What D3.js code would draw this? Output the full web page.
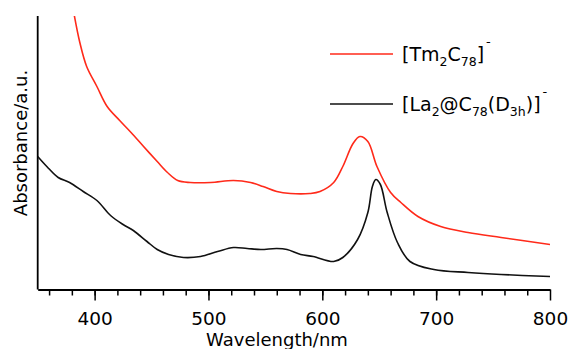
<!DOCTYPE html>
<html>
<head>
<meta charset="utf-8">
<script src="https://cdn.jsdelivr.net/npm/d3@7"></script>
<style>
  body { margin: 0; background: #fff; }
  svg { display: block; font-family: "DejaVu Sans", sans-serif; }
</style>
</head>
<body>
<div id="chart"></div>
<script>
// Tm2C78 anion (red)
const tmWavelength = [382, 387, 393, 402, 411, 422, 432, 443, 455, 464, 473, 484, 502, 522, 537, 548, 560, 572, 589, 598, 610, 618, 627, 633, 640, 648, 660, 669, 684, 704, 728, 757, 800];
const tmAbs = [2.75, 2.47, 2.23, 2.03, 1.83, 1.69, 1.57, 1.43, 1.28, 1.17, 1.09, 1.07, 1.07, 1.09, 1.07, 1.03, 0.98, 0.96, 0.96, 0.98, 1.07, 1.23, 1.46, 1.53, 1.48, 1.23, 0.97, 0.87, 0.73, 0.63, 0.57, 0.52, 0.45];

// La2@C78(D3h) anion (black)
const laWavelength = [350, 358, 368, 378, 390, 402, 414, 425, 434, 446, 455, 465, 478, 493, 508, 522, 534, 546, 560, 569, 581, 592, 610, 618, 631, 640, 644, 647, 651, 657, 666, 677, 698, 728, 757, 800];
const laAbs = [1.33, 1.23, 1.12, 1.07, 0.98, 0.89, 0.74, 0.65, 0.59, 0.48, 0.40, 0.35, 0.32, 0.33, 0.38, 0.42, 0.41, 0.40, 0.41, 0.40, 0.35, 0.33, 0.28, 0.32, 0.50, 0.77, 1.03, 1.10, 1.05, 0.77, 0.47, 0.28, 0.20, 0.17, 0.15, 0.13];

const majorTicks = [400, 500, 600, 700, 800];
const minorTicks = d3.range(360, 800, 20);

const width = 569, height = 349;
const plotLeft = 37.7, plotRight = 550, plotTop = 16, plotBottom = 289.5;

const svg = d3.select('#chart').append('svg')
  .attr('width', width)
  .attr('height', height);

const x = d3.scaleLinear().domain([350, 800]).range([plotLeft, plotRight]);
const y = d3.scaleLinear().domain([0, 2.735]).range([plotBottom, plotTop]);

svg.append('clipPath').attr('id', 'plot')
  .append('rect')
  .attr('x', plotLeft).attr('y', plotTop)
  .attr('width', plotRight - plotLeft).attr('height', plotBottom - plotTop);

// axes
const minorAxis = svg.append('g')
  .attr('transform', 'translate(0,' + plotBottom + ')')
  .call(d3.axisBottom(x).tickValues(minorTicks).tickSize(6).tickFormat(''));
minorAxis.select('.domain').remove();

const majorAxis = svg.append('g')
  .attr('transform', 'translate(0,' + plotBottom + ')')
  .call(d3.axisBottom(x).tickValues(majorTicks).tickSize(11).tickSizeOuter(0).tickPadding(11));
majorAxis.select('.domain').attr('stroke-width', 1.8);

svg.selectAll('.tick line').attr('stroke', '#000').attr('stroke-width', 1.5);
majorAxis.selectAll('.tick text')
  .attr('font-family', '"DejaVu Sans", sans-serif')
  .attr('font-size', 18.5)
  .attr('fill', '#000');

svg.append('line')
  .attr('x1', plotLeft).attr('x2', plotLeft)
  .attr('y1', plotTop).attr('y2', plotBottom)
  .attr('stroke', '#000').attr('stroke-width', 1.8);

// axis titles
svg.append('text')
  .attr('x', 277).attr('y', 346)
  .attr('text-anchor', 'middle')
  .attr('font-size', 18)
  .text('Wavelength/nm');

svg.append('text')
  .attr('transform', 'translate(27,143) rotate(-90)')
  .attr('text-anchor', 'middle')
  .attr('font-size', 18)
  .text('Absorbance/a.u.');

// spectra
const line = d3.line()
  .x(d => x(d[0]))
  .y(d => y(d[1]))
  .curve(d3.curveCatmullRom.alpha(0.5));

const series = [
  { wl: tmWavelength, abs: tmAbs, color: '#ff2a1a' },
  { wl: laWavelength, abs: laAbs, color: '#111' }
];

svg.append('g').attr('clip-path', 'url(#plot)')
  .selectAll('path')
  .data(series)
  .enter()
  .append('path')
  .attr('d', s => line(s.wl.map((w, i) => [w, s.abs[i]])))
  .attr('fill', 'none')
  .attr('stroke', s => s.color)
  .attr('stroke-width', 1.6);

// legend
const legend = [
  { y: 54, color: '#ff2a1a', parts: [['[Tm'], ['2', 'sub'], ['C'], ['78', 'sub'], [']'], ['-', 'sup']] },
  { y: 104, color: '#111', parts: [['[La'], ['2', 'sub'], ['@C'], ['78', 'sub'], ['(D'], ['3h', 'sub'], [')]'], ['-', 'sup']] }
];

legend.forEach(item => {
  svg.append('line')
    .attr('x1', 330).attr('x2', 393)
    .attr('y1', item.y).attr('y2', item.y)
    .attr('stroke', item.color).attr('stroke-width', 1.6);

  const t = svg.append('text')
    .attr('x', 402).attr('y', item.y + 7)
    .attr('font-size', 19);
  let shift = 0;
  item.parts.forEach(p => {
    const target = p[1] === 'sub' ? 5 : p[1] === 'sup' ? -15 : 0;
    const ts = t.append('tspan').attr('dy', target - shift).text(p[0]);
    if (p[1] === 'sub') ts.attr('font-size', 12.5);
    if (p[1] === 'sup') ts.attr('font-size', 13).attr('dx', 2);
    shift = target;
  });
});
</script>
</body>
</html>
